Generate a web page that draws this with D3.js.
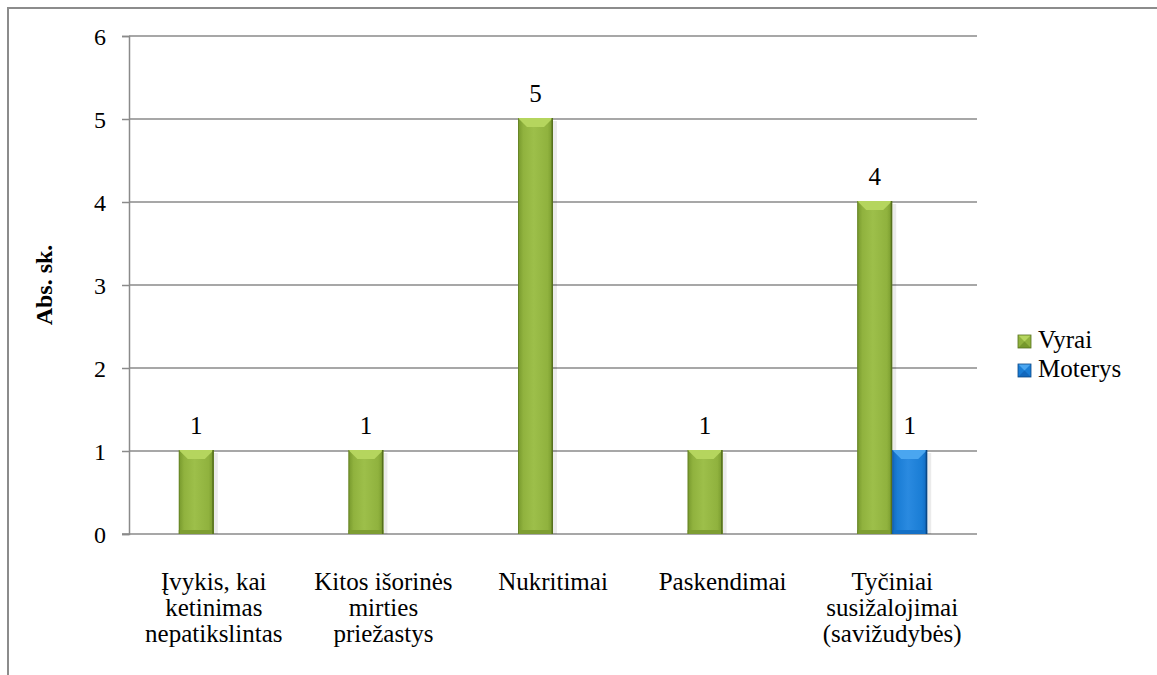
<!DOCTYPE html>
<html>
<head>
<meta charset="utf-8">
<script src="https://cdn.jsdelivr.net/npm/d3@7"></script>
<style>
  body { margin: 0; background: #fff; }
</style>
</head>
<body>
<svg id="chart"></svg>
<script>
const categories = [
  ["Įvykis, kai", "ketinimas", "nepatikslintas"],
  ["Kitos išorinės", "mirties", "priežastys"],
  ["Nukritimai"],
  ["Paskendimai"],
  ["Tyčiniai", "susižalojimai", "(savižudybės)"]
];
const seriesNames = ["Vyrai", "Moterys"];
const vyrai = [1, 1, 5, 1, 4];
const moterys = [0, 0, 0, 0, 1];
const yTicks = [0, 1, 2, 3, 4, 5, 6];

const W = 1157, H = 675;
const FONT = "Liberation Serif";
const svg = d3.select("#chart").attr("width", W).attr("height", H)
  .attr("font-family", FONT);

// colour sets per series
const palette = {
  Vyrai: { body: "#90b23e", light: "#9dbf4a", edge: "#76982c", top: "#b5d55e", dark: "#56701d", bottom: "#7d9d32" },
  Moterys: { body: "#1a7dd5", light: "#2a8ae0", edge: "#1268bd", top: "#4aa6f0", dark: "#0a4784", bottom: "#1470c6" }
};

const defs = svg.append("defs");
Object.keys(palette).forEach((k) => {
  const p = palette[k];
  const g = defs.append("linearGradient").attr("id", "body-" + k).attr("x1", 0).attr("x2", 1);
  g.append("stop").attr("offset", "0%").attr("stop-color", p.edge);
  g.append("stop").attr("offset", "15%").attr("stop-color", p.body);
  g.append("stop").attr("offset", "45%").attr("stop-color", p.light);
  g.append("stop").attr("offset", "85%").attr("stop-color", p.body);
  g.append("stop").attr("offset", "100%").attr("stop-color", p.edge);
});

// outer frame
svg.append("rect")
  .attr("x", 8).attr("y", 8)
  .attr("width", W + 20).attr("height", H + 20)
  .attr("fill", "none").attr("stroke", "#8c8c8c").attr("stroke-width", 2);

const x = d3.scaleBand().domain(d3.range(categories.length)).range([129, 977]).padding(0);
const y = d3.scaleLinear().domain([0, 6]).range([534, 36]);
const barW = 35;
const xs = d3.scaleBand().domain(seriesNames).range([0, 2 * barW]);
const groupOffset = (x.bandwidth() - 2 * barW) / 2;

// gridlines
svg.append("g").selectAll("line").data(yTicks.filter((d) => d > 0)).enter()
  .append("line")
  .attr("x1", 129).attr("x2", 977)
  .attr("y1", (d) => y(d)).attr("y2", (d) => y(d))
  .attr("stroke", "#8a8a8a").attr("stroke-width", 1.5);

// y axis
const yAxis = d3.axisLeft(y).tickValues(yTicks).tickSize(7).tickPadding(16).tickFormat(d3.format("d"));
const yg = svg.append("g").attr("transform", "translate(129,0)").call(yAxis)
  .attr("font-family", FONT);
yg.select(".domain").attr("stroke", "#8a8a8a").attr("stroke-width", 1.5);
yg.selectAll(".tick line").attr("stroke", "#8a8a8a").attr("stroke-width", 1.5);
yg.selectAll(".tick text")
  .attr("font-size", 24).attr("fill", "#000").attr("dy", "0.34em");

// x axis line
svg.append("line")
  .attr("x1", 122).attr("x2", 977)
  .attr("y1", y(0)).attr("y2", y(0))
  .attr("stroke", "#8a8a8a").attr("stroke-width", 1.5);

// y title
svg.append("text")
  .attr("transform", "translate(52," + (y(3)) + ") rotate(-90)")
  .attr("text-anchor", "middle")
  .attr("font-size", 24).attr("font-weight", "bold")
  .text("Abs. sk.");

// category labels
const cat = svg.append("g").selectAll("text").data(categories).enter()
  .append("text")
  .attr("text-anchor", "middle")
  .attr("font-size", 25);
cat.selectAll("tspan").data((d, i) => d.map((t) => ({ t, i }))).enter()
  .append("tspan")
  .attr("x", (d) => x(d.i) + x.bandwidth() / 2)
  .attr("y", (d, j) => 590 + j * 26)
  .text((d) => d.t);

// bars
const bars = [];
categories.forEach((c, i) => {
  bars.push({ i, s: "Vyrai", v: vyrai[i] });
  bars.push({ i, s: "Moterys", v: moterys[i] });
});
const shown = bars.filter((d) => d.v > 0);

const bg = svg.append("g").selectAll("g").data(shown).enter().append("g")
  .attr("transform", (d) => "translate(" + (x(d.i) + groupOffset + xs(d.s)) + ",0)");

bg.append("rect")
  .attr("x", barW).attr("y", (d) => y(d.v) + 2)
  .attr("width", 4).attr("height", (d) => y(0) - y(d.v) - 2)
  .attr("fill", "#000").attr("opacity", 0.08);
bg.append("rect")
  .attr("x", 0).attr("y", (d) => y(d.v) - 1)
  .attr("width", barW).attr("height", (d) => y(0) - y(d.v) + 1)
  .attr("fill", (d) => "url(#body-" + d.s + ")");
bg.append("path")
  .attr("d", (d) => {
    const t = y(d.v) - 1;
    return "M0," + t + "L" + barW + "," + t + "L" + (barW - 9) + "," + (t + 9) + "L9," + (t + 9) + "Z";
  })
  .attr("fill", (d) => palette[d.s].top);
bg.append("rect")
  .attr("x", 0).attr("y", y(0) - 4)
  .attr("width", barW).attr("height", 4)
  .attr("fill", (d) => palette[d.s].bottom);
bg.append("rect")
  .attr("x", barW - 1.5).attr("y", (d) => y(d.v) - 1)
  .attr("width", 1.5).attr("height", (d) => y(0) - y(d.v) + 1)
  .attr("fill", (d) => palette[d.s].dark);
bg.append("rect")
  .attr("x", 0).attr("y", (d) => y(d.v) - 1)
  .attr("width", 1).attr("height", (d) => y(0) - y(d.v) + 1)
  .attr("fill", (d) => palette[d.s].dark).attr("opacity", 0.5);

// value labels
bg.append("text")
  .attr("x", barW / 2).attr("y", (d) => y(d.v) - 17)
  .attr("text-anchor", "middle").attr("font-size", 25)
  .text((d) => d.v);

// legend
const lg = svg.append("g").selectAll("g").data(seriesNames).enter().append("g")
  .attr("transform", (d, i) => "translate(1018," + (335 + i * 29) + ")");
const m = 13;
lg.append("rect").attr("width", m).attr("height", m).attr("fill", (d) => palette[d].body);
lg.append("path").attr("d", "M0,0L" + m + ",0L" + (m / 2) + "," + (m / 2) + "Z")
  .attr("fill", (d) => palette[d].top);
lg.append("path").attr("d", "M0," + m + "L" + m + "," + m + "L" + (m / 2) + "," + (m / 2) + "Z")
  .attr("fill", (d) => palette[d].edge);
lg.append("rect").attr("width", m).attr("height", m).attr("fill", "none")
  .attr("stroke", (d) => palette[d].dark).attr("stroke-width", 0.8);
lg.append("text").attr("x", 20).attr("y", 13).attr("font-size", 25).text((d) => d);
</script>
</body>
</html>
